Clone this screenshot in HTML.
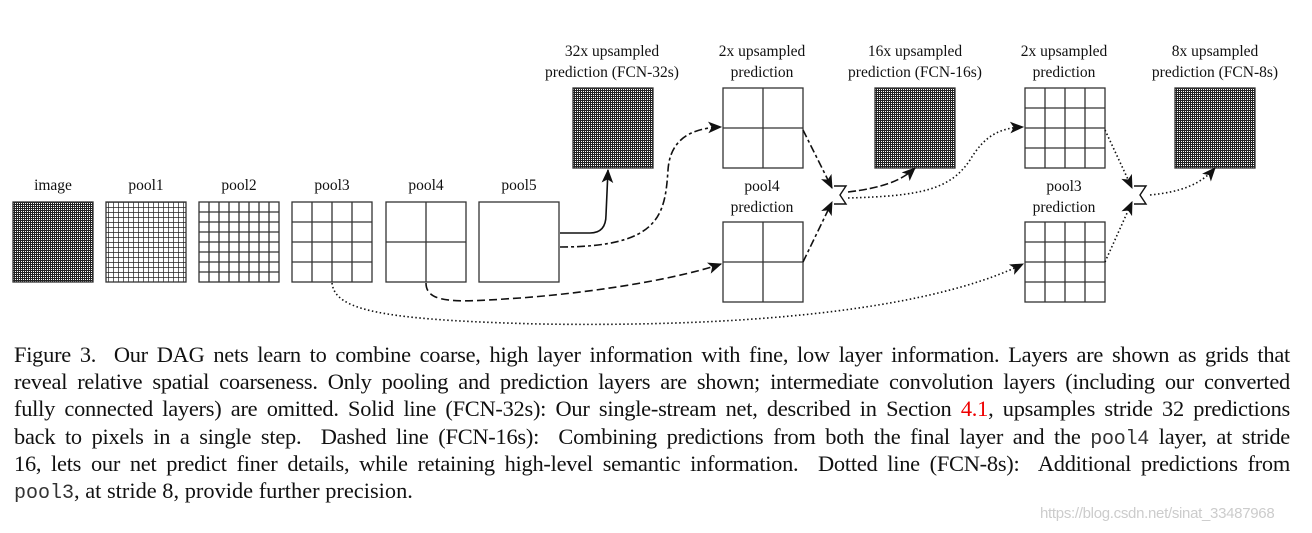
<!DOCTYPE html>
<html><head><meta charset="utf-8"><style>
body{margin:0;background:#fff;width:1312px;height:533px;overflow:hidden;position:relative}
svg{position:absolute;left:0;top:0}
.cap{position:absolute;left:14px;width:1276px;font:22.4px "Liberation Serif",serif;color:#111;text-align:justify;text-align-last:justify;white-space:nowrap;line-height:27px;letter-spacing:-0.25px}
.cap.l{text-align-last:left;letter-spacing:0}
.m{font-family:"Liberation Mono",monospace;font-size:20px;color:#333}
.r{color:#e00}
.wm{position:absolute;left:1040px;top:505px;font:15px "Liberation Sans",sans-serif;color:#ccc;letter-spacing:-0.3px}
</style></head><body>
<svg width="1312" height="340" xmlns="http://www.w3.org/2000/svg">
<defs>
<pattern id="d" width="2" height="2" patternUnits="userSpaceOnUse"><rect width="2" height="2" fill="#fff"/><rect width="2" height="1" fill="#222"/><rect width="1" height="2" fill="#222"/></pattern>
<pattern id="p1" x="13" y="202" width="5" height="5" patternUnits="userSpaceOnUse"><path d="M0,0H5M0,0V5" stroke="#222" stroke-width="1.4" fill="none"/></pattern>
<marker id="ah" viewBox="0 0 12 10" refX="11" refY="5" markerWidth="14" markerHeight="12" markerUnits="userSpaceOnUse" orient="auto"><path d="M0,0L12,5L0,10L3,5Z" fill="#111"/></marker>
</defs>
<g font-family="Liberation Serif,serif" font-size="15.5" fill="#111" text-anchor="middle">
<text x="53" y="190">image</text><text x="146" y="190">pool1</text><text x="239" y="190">pool2</text><text x="332" y="190">pool3</text><text x="426" y="190">pool4</text><text x="519" y="190">pool5</text>
<text x="612" y="56">32x upsampled</text><text x="612" y="77">prediction (FCN-32s)</text>
<text x="762" y="56">2x upsampled</text><text x="762" y="77">prediction</text>
<text x="915" y="56">16x upsampled</text><text x="915" y="77">prediction (FCN-16s)</text>
<text x="1064" y="56">2x upsampled</text><text x="1064" y="77">prediction</text>
<text x="1215" y="56">8x upsampled</text><text x="1215" y="77">prediction (FCN-8s)</text>
<text x="762" y="191">pool4</text><text x="762" y="212">prediction</text>
<text x="1064" y="191">pool3</text><text x="1064" y="212">prediction</text>
</g>
<g stroke="#333" stroke-width="1.3" fill="none">
<rect x="13" y="202" width="80" height="80" fill="url(#d)"/>
<rect x="106" y="202" width="80" height="80" fill="url(#p1)"/>
<rect x="573" y="88" width="80" height="80" fill="url(#d)"/>
<rect x="875" y="88" width="80" height="80" fill="url(#d)"/>
<rect x="1175" y="88" width="80" height="80" fill="url(#d)"/>
<rect x="199" y="202" width="80" height="80"/>
<path d="M209,202V282M219,202V282M229,202V282M239,202V282M249,202V282M259,202V282M269,202V282M199,212H279M199,222H279M199,232H279M199,242H279M199,252H279M199,262H279M199,272H279"/>
<rect x="292" y="202" width="80" height="80"/>
<path d="M312,202V282M332,202V282M352,202V282M292,222H372M292,242H372M292,262H372"/>
<rect x="386" y="202" width="80" height="80"/><path d="M426,202V282M386,242H466"/>
<rect x="479" y="202" width="80" height="80"/>
<rect x="723" y="88" width="80" height="80"/><path d="M763,88V168M723,128H803"/>
<rect x="723" y="222" width="80" height="80"/><path d="M763,222V302M723,262H803"/>
<rect x="1025" y="88" width="80" height="80"/><path d="M1045,88V168M1065,88V168M1085,88V168M1025,108H1105M1025,128H1105M1025,148H1105"/>
<rect x="1025" y="222" width="80" height="80"/><path d="M1045,222V302M1065,222V302M1085,222V302M1025,242H1105M1025,262H1105M1025,282H1105"/>
</g>
<g stroke="#111" stroke-width="1.4" fill="none">
<path d="M834,186L846,186L840,195L846,204L834,204"/>
<path d="M1134,186L1146,186L1140,195L1146,204L1134,204"/>
</g>
<g stroke="#111" stroke-width="1.6" fill="none" marker-end="url(#ah)">
<path d="M560,233L590,233Q606,233 606,215L608,170"/>
<path d="M560,247C660,247 665,215 668,170C670,140 690,128 721,127" stroke-dasharray="8,3,3,3"/>
<path d="M426,283C426,305 460,302 520,298C600,292 680,278 721,264" stroke-dasharray="8,4"/>
<path d="M803,130L832,188" stroke-dasharray="8,3,3,3"/>
<path d="M803,262L832,202" stroke-dasharray="8,3,3,3"/>
<path d="M848,192C880,188 900,182 915,168" stroke-dasharray="8,3"/>
<path d="M848,198C920,196 950,190 970,160C985,135 1000,128 1023,127" stroke-dasharray="1.5,2.5"/>
<path d="M332,283C335,310 380,320 540,324C800,328 950,300 1023,264" stroke-dasharray="1.5,2.5"/>
<path d="M1105,130L1132,188" stroke-dasharray="1.5,2.5"/>
<path d="M1105,262L1132,202" stroke-dasharray="1.5,2.5"/>
<path d="M1150,195C1180,192 1200,185 1215,168" stroke-dasharray="1.5,2.5"/>
</g>
</svg>
<div class="cap" style="top:341px">Figure 3.&nbsp; Our DAG nets learn to combine coarse, high layer information with fine, low layer information. Layers are shown as grids that</div>
<div class="cap" style="top:368px">reveal relative spatial coarseness. Only pooling and prediction layers are shown; intermediate convolution layers (including our converted</div>
<div class="cap" style="top:395px">fully connected layers) are omitted. Solid line (FCN-32s): Our single-stream net, described in Section <span class="r">4.1</span>, upsamples stride 32 predictions</div>
<div class="cap" style="top:423px">back to pixels in a single step.&nbsp; Dashed line (FCN-16s):&nbsp; Combining predictions from both the final layer and the <span class="m">pool4</span> layer, at stride</div>
<div class="cap" style="top:450px">16, lets our net predict finer details, while retaining high-level semantic information.&nbsp; Dotted line (FCN-8s):&nbsp; Additional predictions from</div>
<div class="cap l" style="top:477px"><span class="m">pool3</span>, at stride 8, provide further precision.</div>
<div class="wm">https://blog.csdn.net/sinat_33487968</div>
</body></html>
